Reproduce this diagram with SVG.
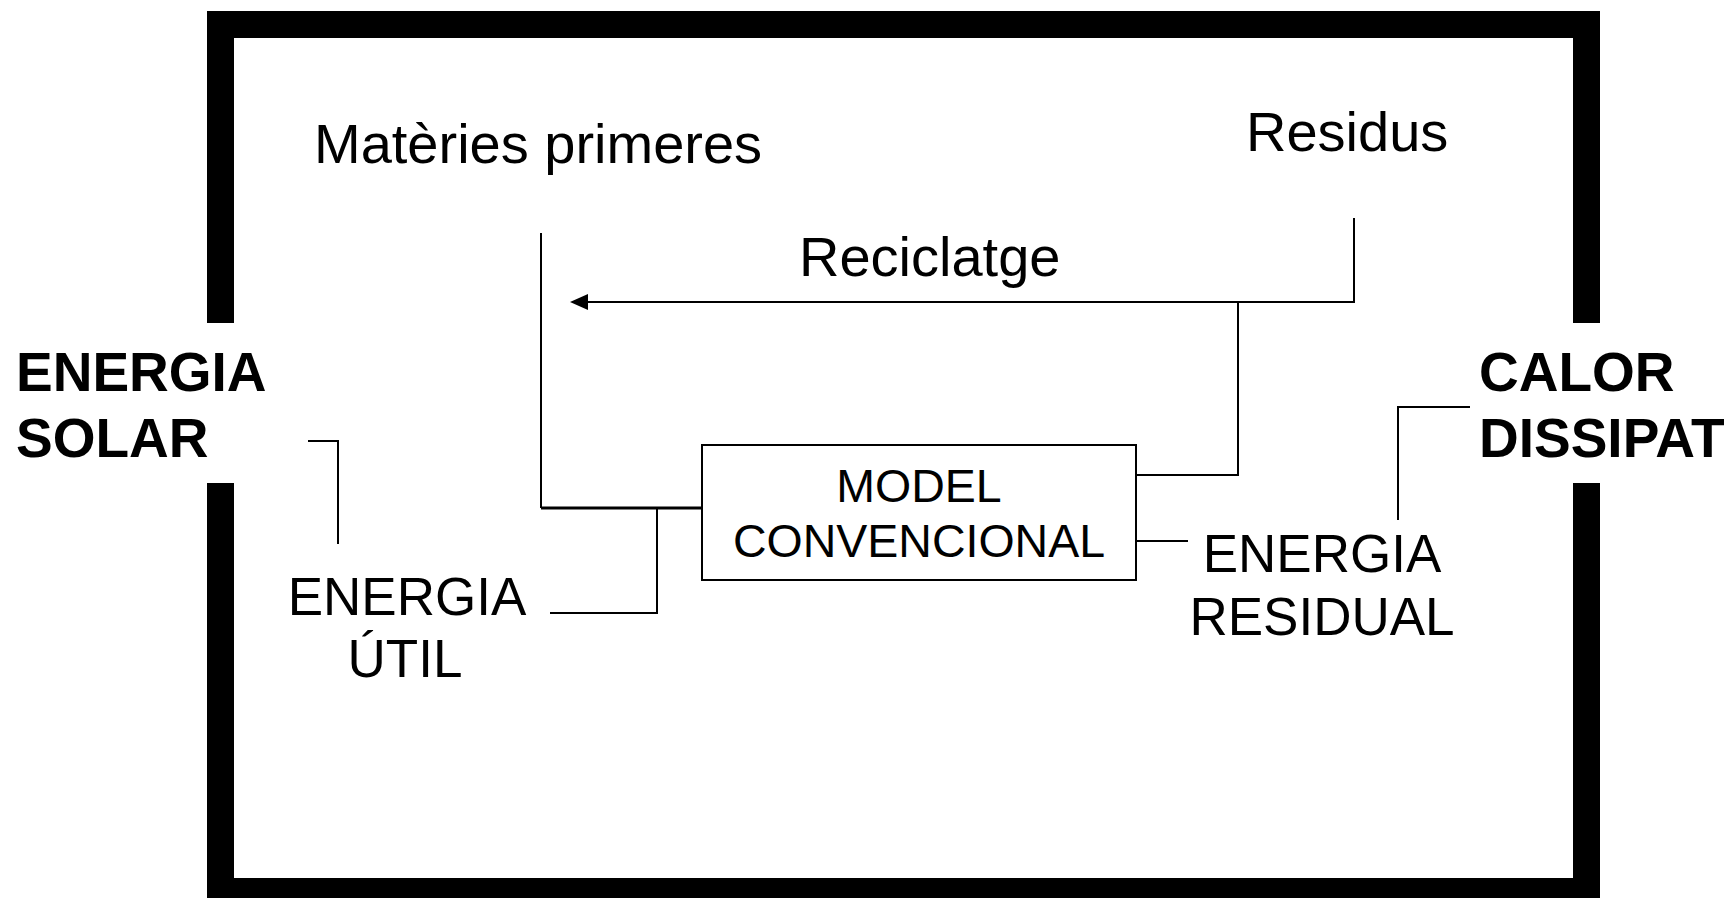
<svg xmlns="http://www.w3.org/2000/svg" width="1729" height="898" viewBox="0 0 1729 898">
<style>
.t{font-family:"Liberation Sans",Arial,sans-serif;fill:#000}
.b{font-weight:bold;font-size:55px}
.r{font-size:56px}
.e{font-size:53px}
.ln{fill:none;stroke:#000;stroke-width:2}
.th{fill:none;stroke:#000;stroke-width:3}
.fr{fill:#000}
</style>
<rect width="1729" height="898" fill="#fff"/>
<g id="frame">
<rect class="fr" x="207" y="11" width="1393" height="27"/>
<rect class="fr" x="207" y="11" width="27" height="312"/>
<rect class="fr" x="207" y="483" width="27" height="415"/>
<rect class="fr" x="1573" y="11" width="27" height="312"/>
<rect class="fr" x="1573" y="483" width="27" height="415"/>
<rect class="fr" x="207" y="878" width="1393" height="20"/>
</g>
<g id="energia-solar">
<text class="t b" x="16" y="391">ENERGIA</text>
<text class="t b" x="16" y="457">SOLAR</text>
</g>
<g id="calor-dissipat">
<text class="t b" x="1479" y="391">CALOR</text>
<text class="t b" x="1479" y="457">DISSIPAT</text>
</g>
<g id="materies">
<text class="t r" x="314" y="163">Matèries primeres</text>
</g>
<g id="residus">
<text class="t r" x="1246" y="151">Residus</text>
</g>
<g id="reciclatge">
<text class="t r" x="799" y="276">Reciclatge</text>
</g>
<g id="model">
<rect x="702" y="445" width="434" height="135" fill="#fff" stroke="#000" stroke-width="2"/>
<text class="t" font-size="46.5" text-anchor="middle" x="919" y="502">MODEL</text>
<text class="t" font-size="46.5" text-anchor="middle" x="919" y="557">CONVENCIONAL</text>
</g>
<g id="energia-util">
<text class="t e" text-anchor="middle" x="407" y="615">ENERGIA</text>
<text class="t e" text-anchor="middle" x="405" y="677">ÚTIL</text>
</g>
<g id="energia-residual">
<text class="t e" text-anchor="middle" x="1322" y="572">ENERGIA</text>
<text class="t e" text-anchor="middle" x="1322" y="635">RESIDUAL</text>
</g>
<g id="connectors">
<path class="ln" d="M541 233 V508"/>
<path class="th" d="M541 508 H702"/>
<path class="ln" d="M550 613 H657 V508"/>
<path class="ln" d="M308 441 H338 V544"/>
<path class="ln" d="M1354 218 V302 H584"/>
<path d="M570 302 L588 294 L588 310 Z" fill="#000"/>
<path class="ln" d="M1238 302 V475 H1136"/>
<path class="ln" d="M1136 541 H1188"/>
<path class="ln" d="M1398 520 V407 H1470"/>
</g>
</svg>
